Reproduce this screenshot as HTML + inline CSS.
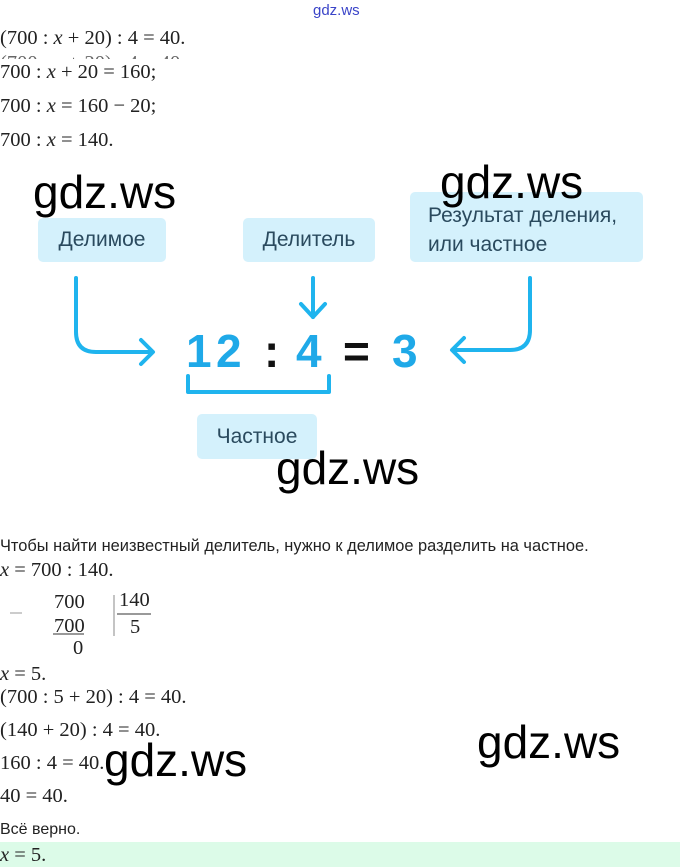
<!DOCTYPE html>
<html><head><meta charset="utf-8"><style>
body{margin:0;width:680px;height:867px;background:#fff;position:relative;overflow:hidden}
.m{position:absolute;font-family:"Liberation Serif",serif;font-size:20.5px;color:#222;line-height:20px;white-space:nowrap}
.m i{font-style:italic}
.s{position:absolute;font-family:"Liberation Sans","DejaVu Sans",sans-serif;color:#222;white-space:nowrap}
.w{position:absolute;font-family:"Liberation Sans","DejaVu Sans",sans-serif;font-size:46px;color:#000;line-height:44px;z-index:5}
.b{position:absolute;background:#d4f1fc;border-radius:5px;font-family:"Liberation Sans","DejaVu Sans",sans-serif;font-size:21px;color:#2a4a5e;white-space:nowrap}
</style></head><body>
<div class="s" style="left:313px;top:2px;font-size:15px;color:#3a44c8">gdz.ws</div>
<div class="m" style="left:0;top:28px">(700 : <i>x</i> + 20) : 4 = 40.</div>
<div class="m" style="left:0;top:53px;height:6px;overflow:hidden;color:#666">(700 : <i>x</i> + 20) : 4 = 40.</div>
<div class="m" style="left:0;top:62px">700 : <i>x</i> + 20 = 160;</div>
<div class="m" style="left:0;top:96px">700 : <i>x</i> = 160 − 20;</div>
<div class="m" style="left:0;top:130px">700 : <i>x</i> = 140.</div>

<div class="b" style="left:38px;top:218px;width:128px;height:44px;line-height:44px;text-align:center">Делимое</div>
<div class="b" style="left:243px;top:218px;width:132px;height:44px;line-height:44px;text-align:center">Делитель</div>
<div class="b" style="left:410px;top:192px;width:233px;height:70px;line-height:29px;padding:9px 0 0 18px;box-sizing:border-box">Результат деления,<br>или частное</div>
<div class="b" style="left:197px;top:414px;width:120px;height:45px;line-height:45px;text-align:center">Частное</div>
<div class="w" style="left:33px;top:170px">gdz.ws</div>
<div class="w" style="left:440px;top:160px">gdz.ws</div>
<svg style="position:absolute;left:0;top:0" width="680" height="867">
<g fill="none" stroke="#1fb4ee" stroke-width="4" stroke-linecap="round" stroke-linejoin="round">
<path d="M76 278 V332 Q76 352 96 352 H152"/><path d="M141 340 L153 352 L141 364"/>
<path d="M313 278 V317"/><path d="M301 304 L313 317 L325 304"/>
<path d="M530 278 V330 Q530 350 510 350 H453"/><path d="M464 338 L452 350 L464 362"/>
<path d="M188 376 V392 H329 V376"/>
</g>
<g font-family="Liberation Sans,DejaVu Sans,sans-serif" font-size="46" font-weight="bold">
<text x="186" y="367" fill="#1fa9e8">1</text><text x="216" y="367" fill="#1fa9e8">2</text>
<text x="264" y="367" fill="#111">:</text><text x="296" y="367" fill="#1fa9e8">4</text>
<text x="343" y="367" fill="#111">=</text><text x="392" y="367" fill="#1fa9e8">3</text>
</g>
<line x1="114" y1="595" x2="114" y2="636" stroke="#888" stroke-width="1"/>
<line x1="117" y1="614" x2="151" y2="614" stroke="#333" stroke-width="1"/>
<line x1="53" y1="634" x2="84" y2="634" stroke="#333" stroke-width="1"/>
<line x1="10" y1="613" x2="22" y2="613" stroke="#999" stroke-width="1"/>
</svg>
<div class="w" style="left:276px;top:446px">gdz.ws</div>
<div class="s" style="left:0;top:537px;font-size:16.4px">Чтобы найти неизвестный делитель, нужно к делимое разделить на частное.</div>
<div class="m" style="left:0;top:560px"><i>x</i> = 700 : 140.</div>
<div class="m" style="left:54px;top:592px">700</div>
<div class="m" style="left:54px;top:616px">700</div>
<div class="m" style="left:73px;top:638px">0</div>
<div class="m" style="left:119px;top:590px">140</div>
<div class="m" style="left:130px;top:617px">5</div>
<div class="m" style="left:0;top:664px"><i>x</i> = 5.</div>
<div class="m" style="left:0;top:687px">(700 : 5 + 20) : 4 = 40.</div>
<div class="m" style="left:0;top:720px">(140 + 20) : 4 = 40.</div>
<div class="m" style="left:0;top:753px">160 : 4 = 40.</div>
<div class="m" style="left:0;top:786px">40 = 40.</div>
<div class="w" style="left:104px;top:738px">gdz.ws</div>
<div class="w" style="left:477px;top:720px">gdz.ws</div>
<div class="s" style="left:0;top:821px;font-size:16px">Всё верно.</div>
<div style="position:absolute;left:0;top:842px;width:680px;height:25px;background:#dcfbe8"></div>
<div class="m" style="left:0;top:845px"><i>x</i> = 5.</div>
</body></html>
